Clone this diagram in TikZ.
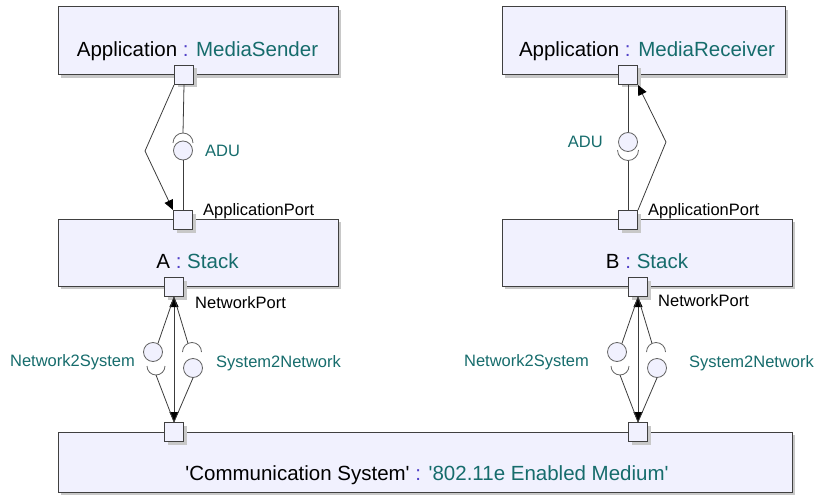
\documentclass[tikz,border=0pt]{standalone}
\usepackage{fontspec}
\setmainfont{Liberation Sans}[Ligatures=TeXOff]
\usetikzlibrary{arrows.meta,shadows}
\definecolor{boxfill}{RGB}{241,241,254}
\definecolor{boxline}{RGB}{64,64,64}
\definecolor{tealtxt}{RGB}{22,108,108}
\definecolor{colonc}{RGB}{80,64,200}
\definecolor{shadowc}{RGB}{200,200,200}
\definecolor{lineg}{RGB}{60,60,60}
\definecolor{ballline}{RGB}{100,100,100}
\begin{document}
\begin{tikzpicture}[x=1pt,y=-1pt,
  part/.style={draw=boxline,line width=1pt,fill=boxfill,inner sep=0pt,
    drop shadow={shadow xshift=3pt,shadow yshift=-3pt,fill=shadowc,opacity=1}},
  bigbox/.style={part,rectangle},
  port/.style={part,rectangle,minimum width=19pt,minimum height=19pt},
  ball/.style={circle,draw=ballline,line width=0.8pt,fill=boxfill,minimum size=19pt,inner sep=0pt},
  conn/.style={draw=lineg,line width=0.8pt},
  sock/.style={draw=ballline,line width=0.8pt},
  tip/.style={Triangle[length=10pt,width=9pt,color=black,fill=black]},
  arr/.style={conn,-{Triangle[length=10pt,width=9pt,color=black,fill=black]}},
  dbl/.style={conn,{Triangle[length=10pt,width=9pt,color=black,fill=black]}-{Triangle[length=10pt,width=9pt,color=black,fill=black]}},
  bigtxt/.style={font=\fontsize{20.5}{24}\selectfont,anchor=base,inner sep=0pt},
  smalltxt/.style={font=\fontsize{16.5}{20}\selectfont,inner sep=0pt},
  ]
\useasboundingbox (0,0) rectangle (816,500);

% boxes
\node[bigbox,minimum width=280pt,minimum height=68pt] (sender) at (198,41) {};
\node[bigbox,minimum width=283pt,minimum height=68pt] (receiver) at (643.5,41) {};
\node[bigbox,minimum width=280pt,minimum height=67pt] (stackA) at (198,252.5) {};
\node[bigbox,minimum width=290pt,minimum height=67pt] (stackB) at (647,252.5) {};
\node[bigbox,minimum width=734pt,minimum height=60pt] (medium) at (425,462) {};

% box texts
\node[bigtxt] (tsender) at (197.5,57) {Application \textcolor{colonc}{:} \textcolor{tealtxt}{MediaSender}};
\node[bigtxt] (treceiver) at (647,57) {Application \textcolor{colonc}{:} \textcolor{tealtxt}{MediaReceiver}};
\node[bigtxt] (tA) at (197.5,268) {A \textcolor{colonc}{:} \textcolor{tealtxt}{Stack}};
\node[bigtxt] (tB) at (647,268) {B \textcolor{colonc}{:} \textcolor{tealtxt}{Stack}};
\node[bigtxt] (tmedium) at (427,480) {'Communication System' \textcolor{colonc}{:} \textcolor{tealtxt}{'802.11e Enabled Medium'}};

% ports
\node[port] (p1) at (184,75) {};
\node[port] (p2) at (183,220) {};
\node[port] (p3) at (628,75) {};
\node[port] (p4) at (628,220) {};
\node[port] (p5) at (174,287) {};
\node[port] (p6) at (638,287) {};
\node[port] (p7) at (174,432) {};
\node[port] (p8) at (638,432) {};

% port labels
\node[smalltxt,anchor=base west] (l2) at (203,215) {ApplicationPort};
\node[smalltxt,anchor=base west] (l4) at (648,215) {ApplicationPort};
\node[smalltxt,anchor=base west] (l5) at (195,308) {NetworkPort};
\node[smalltxt,anchor=base west] (l6) at (658,306) {NetworkPort};

% ---- top left: ADU (sender -> stack A)
\node[ball] (b1) at (183,150.5) {};
\coordinate (s1top) at (183,133);
\draw[conn] (p1.south) -- (s1top);
\draw[sock] (173,143) arc[start angle=180,end angle=0,radius=10pt];
\draw[conn] (b1.south) -- (p2.north);
\coordinate (k1) at (145,151);
\draw[arr] (p1.south west) -- (k1) -- (p2.north west);
\node[smalltxt,anchor=base west,text=tealtxt] (adu1) at (205,156) {ADU};

% ---- top right: ADU (stack B -> receiver)
\node[ball] (b2) at (628,142) {};
\coordinate (s2bot) at (628,160.5);
\draw[conn] (p3.south) -- (b2.north);
\draw[sock] (617.5,150) arc[start angle=180,end angle=360,radius=10.5pt];
\draw[conn] (s2bot) -- (p4.north);
\coordinate (k2) at (666,142);
\draw[arr] (p4.north east) -- (k2) -- (p3.south east);
\node[smalltxt,anchor=base east,text=tealtxt] (adu2) at (603,147) {ADU};

% ---- bottom left cluster
\draw[dbl] (p5.south) -- (p7.north);
\node[ball] (b3) at (153,352) {};
\coordinate (s3bot) at (156,375);
\draw[conn] (p5.south) -- (b3.60);
\draw[sock] (147,366) arc[start angle=180,end angle=360,radius=9pt];
\draw[conn] (s3bot) -- (p7.north);
\node[ball] (b4) at (193,368) {};
\coordinate (s4top) at (188,343.4);
\draw[conn] (p5.south) -- (s4top);
\draw[sock] (182.5,352) arc[start angle=180,end angle=0,radius=9.5pt];
\draw[conn] (b4.south) -- (p7.north);
\node[smalltxt,anchor=base east,text=tealtxt] (n2s1) at (135,366) {Network2System};
\node[smalltxt,anchor=base west,text=tealtxt] (s2n1) at (216,367) {System2Network};

% ---- bottom right cluster
\draw[dbl] (p6.south) -- (p8.north);
\node[ball] (b5) at (617,352) {};
\coordinate (s5bot) at (620,375);
\draw[conn] (p6.south) -- (b5.60);
\draw[sock] (611,366) arc[start angle=180,end angle=360,radius=9pt];
\draw[conn] (s5bot) -- (p8.north);
\node[ball] (b6) at (657,368) {};
\coordinate (s6top) at (652,343.4);
\draw[conn] (p6.south) -- (s6top);
\draw[sock] (646.5,352) arc[start angle=180,end angle=0,radius=9.5pt];
\draw[conn] (b6.south) -- (p8.north);
\node[smalltxt,anchor=base east,text=tealtxt] (n2s2) at (589,366) {Network2System};
\node[smalltxt,anchor=base west,text=tealtxt] (s2n2) at (689,367) {System2Network};
\end{tikzpicture}
\end{document}
